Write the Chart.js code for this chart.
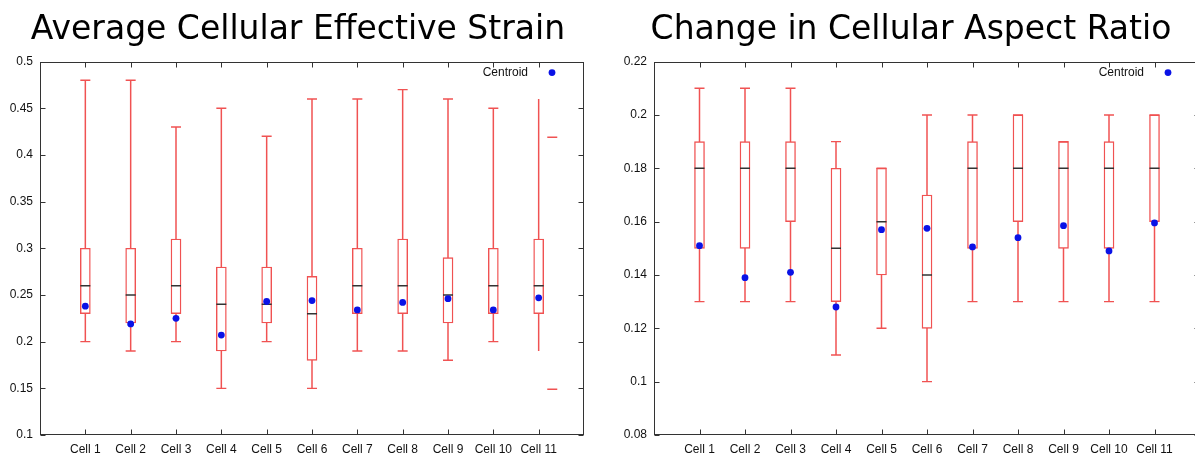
<!DOCTYPE html>
<html>
<head>
<meta charset="utf-8">
<script src="https://cdn.jsdelivr.net/npm/chart.js@4.4.1/dist/chart.umd.min.js"></script>
<style>
  html, body { margin: 0; padding: 0; background: #fff; }
  body { width: 1195px; height: 457px; overflow: hidden; position: relative; }
  canvas { position: absolute; top: 0; }
  #strainChart { left: 0; }
  #ratioChart { left: 600px; }
</style>
</head>
<body>
<canvas id="strainChart" width="600" height="457"></canvas>
<canvas id="ratioChart" width="622" height="457"></canvas>
<script>
const cells = ['Cell 1', 'Cell 2', 'Cell 3', 'Cell 4', 'Cell 5', 'Cell 6', 'Cell 7', 'Cell 8', 'Cell 9', 'Cell 10', 'Cell 11'];

// Average Cellular Effective Strain
const strainMin      = [0.20, 0.19, 0.20, 0.15, 0.20, 0.15, 0.19, 0.19, 0.18, 0.20, 0.19];
const strainQ1       = [0.23, 0.22, 0.23, 0.19, 0.22, 0.18, 0.23, 0.23, 0.22, 0.23, 0.23];
const strainMedian   = [0.26, 0.25, 0.26, 0.24, 0.24, 0.23, 0.26, 0.26, 0.25, 0.26, 0.26];
const strainQ3       = [0.30, 0.30, 0.31, 0.28, 0.28, 0.27, 0.30, 0.31, 0.29, 0.30, 0.31];
const strainMax      = [0.48, 0.48, 0.43, 0.45, 0.42, 0.46, 0.46, 0.47, 0.46, 0.45, 0.46];
const strainCentroid = [0.238, 0.219, 0.225, 0.207, 0.243, 0.244, 0.234, 0.242, 0.246, 0.234, 0.247];
const strainCapped   = [true, true, true, true, true, true, true, true, true, true, false];
const strainOutliers = [{ x: 11.3, y: 0.419 }, { x: 11.3, y: 0.149 }];

// Change in Cellular Aspect Ratio
const ratioMin      = [0.13, 0.13, 0.13, 0.11, 0.12, 0.10, 0.13, 0.13, 0.13, 0.13, 0.13];
const ratioQ1       = [0.15, 0.15, 0.16, 0.13, 0.14, 0.12, 0.15, 0.16, 0.15, 0.15, 0.16];
const ratioMedian   = [0.18, 0.18, 0.18, 0.15, 0.16, 0.14, 0.18, 0.18, 0.18, 0.18, 0.18];
const ratioQ3       = [0.19, 0.19, 0.19, 0.18, 0.18, 0.17, 0.19, 0.20, 0.19, 0.19, 0.20];
const ratioMax      = [0.21, 0.21, 0.21, 0.19, 0.18, 0.20, 0.20, 0.20, 0.19, 0.20, 0.20];
const ratioCentroid = [0.151, 0.139, 0.141, 0.128, 0.157, 0.1575, 0.1505, 0.154, 0.1585, 0.149, 0.1595];
const ratioCapped   = [true, true, true, true, true, true, true, true, true, true, true];

const boxRed = '#f05252';
const medianGray = '#333333';
const centroidBlue = '#0a12e6';
const tickFont = { family: '"Liberation Sans", Arial, sans-serif', size: 12 };

// gnuplot style: closed frame and ticks pointing inwards
const framePlugin = {
  id: 'frame',
  afterDatasetsDraw(chart) {
    const { ctx, chartArea: a, scales: { x, y } } = chart;
    const L = Math.round(a.left) + 0.5, R = Math.round(a.right) - 0.5;
    const T = Math.round(a.top) + 0.5, B = Math.round(a.bottom) - 0.5;
    ctx.save();
    ctx.strokeStyle = '#333';
    ctx.lineWidth = 1;
    ctx.beginPath();
    x.ticks.forEach(t => {
      if (t.value < 1 || t.value > cells.length) return;
      const px = Math.round(x.getPixelForValue(t.value)) + 0.5;
      ctx.moveTo(px, B); ctx.lineTo(px, B - 5);
      ctx.moveTo(px, T); ctx.lineTo(px, T + 5);
    });
    y.ticks.forEach(t => {
      const py = Math.round(y.getPixelForValue(t.value)) + 0.5;
      ctx.moveTo(L, py); ctx.lineTo(L + 5, py);
      ctx.moveTo(R, py); ctx.lineTo(R - 5, py);
    });
    ctx.stroke();
    ctx.strokeRect(L, T, R - L, B - T);
    ctx.restore();
  }
};

// key in the top right corner: text first, symbol after it
const keyPlugin = {
  id: 'key',
  afterDraw(chart) {
    const ds = chart.data.datasets.find(d => d.showInKey);
    if (!ds) return;
    const { ctx, chartArea: a } = chart;
    ctx.save();
    ctx.font = '12px "Liberation Sans", Arial, sans-serif';
    ctx.fillStyle = '#111';
    ctx.textAlign = 'right';
    ctx.textBaseline = 'middle';
    ctx.fillText(ds.label, a.right - 56, a.top + 11);
    ctx.fillStyle = ds.backgroundColor;
    ctx.beginPath();
    ctx.arc(a.right - 32, a.top + 11, ds.pointRadius, 0, Math.PI * 2);
    ctx.fill();
    ctx.restore();
  }
};

function makeBoxChart(id, title, mins, q1s, medians, q3s, maxs, centroids, capped, outliers, yMin, yMax, yStep, axisWidth, padRight, rightGap) {
  const whiskers = [];
  const caps = [];
  mins.forEach((m, i) => {
    whiskers.push({ x: i + 1, y: m }, { x: i + 1, y: maxs[i] }, { x: i + 1, y: null });
    if (capped[i]) caps.push({ x: i + 1, y: m }, { x: i + 1, y: maxs[i] });
  });

  new Chart(document.getElementById(id), {
    type: 'bar',
    data: {
      datasets: [
        {
          type: 'line', label: 'whisker', data: whiskers, order: 5,
          borderColor: boxRed, borderWidth: 1.5, pointRadius: 0, spanGaps: false
        },
        {
          type: 'bar', label: 'box', order: 4,
          data: q1s.map((q, i) => ({ x: i + 1, y: [q, q3s[i]] })),
          backgroundColor: '#ffffff', borderColor: boxRed, borderWidth: 1.4,
          borderSkipped: false, barThickness: 10
        },
        {
          type: 'scatter', label: 'cap', data: caps, order: 3,
          pointStyle: 'line', pointRadius: 5, borderColor: boxRed, borderWidth: 1.4
        },
        {
          type: 'scatter', label: 'outlier', data: outliers, order: 3,
          pointStyle: 'line', pointRadius: 5, borderColor: boxRed, borderWidth: 1.4
        },
        {
          type: 'scatter', label: 'median', order: 2,
          data: medians.map((m, i) => ({ x: i + 1, y: m })),
          pointStyle: 'line', pointRadius: 5, borderColor: medianGray, borderWidth: 1.5
        },
        {
          type: 'scatter', label: 'Centroid', showInKey: true, order: 1,
          data: centroids.map((c, i) => ({ x: i + 1, y: c })),
          pointStyle: 'circle', pointRadius: 3.4, backgroundColor: centroidBlue, borderWidth: 0
        }
      ]
    },
    options: {
      responsive: false,
      animation: false,
      events: [],
      layout: { padding: { left: 0, right: padRight, top: 0, bottom: 0 } },
      plugins: {
        legend: { display: false },
        tooltip: { enabled: false },
        title: {
          display: true,
          text: title,
          color: '#000',
          font: { family: '"DejaVu Sans", sans-serif', size: 33, weight: 'normal' },
          padding: { top: 11, bottom: 11 }
        }
      },
      scales: {
        x: {
          type: 'linear', min: 0, max: cells.length + 1, offset: false,
          grid: { display: false, drawTicks: false },
          border: { display: false },
          afterFit: s => { s.height = 22; },
          ticks: {
            stepSize: 1, autoSkip: false, maxRotation: 0, minRotation: 0,
            padding: 7, color: '#111', font: tickFont,
            callback: v => cells[v - 1] || ''
          }
        },
        y: {
          min: yMin, max: yMax,
          grid: { display: false, drawTicks: false },
          border: { display: false },
          afterFit: s => { s.width = axisWidth; },
          ticks: {
            stepSize: yStep, padding: 7, color: '#111', font: tickFont,
            callback: v => String(Math.round(v * 100) / 100)
          }
        },
        // empty margin on the right of the frame
        yGap: {
          position: 'right',
          grid: { display: false, drawTicks: false },
          border: { display: false },
          ticks: { display: false },
          afterFit: s => { s.width = rightGap; }
        }
      }
    },
    plugins: [framePlugin, keyPlugin]
  });
}

makeBoxChart('strainChart', 'Average Cellular Effective Strain',
  strainMin, strainQ1, strainMedian, strainQ3, strainMax, strainCentroid, strainCapped, strainOutliers,
  0.1, 0.5, 0.05, 40, 4, 12);

makeBoxChart('ratioChart', 'Change in Cellular Aspect Ratio',
  ratioMin, ratioQ1, ratioMedian, ratioQ3, ratioMax, ratioCentroid, ratioCapped, [],
  0.08, 0.22, 0.02, 54, 0, 22);
</script>
</body>
</html>
